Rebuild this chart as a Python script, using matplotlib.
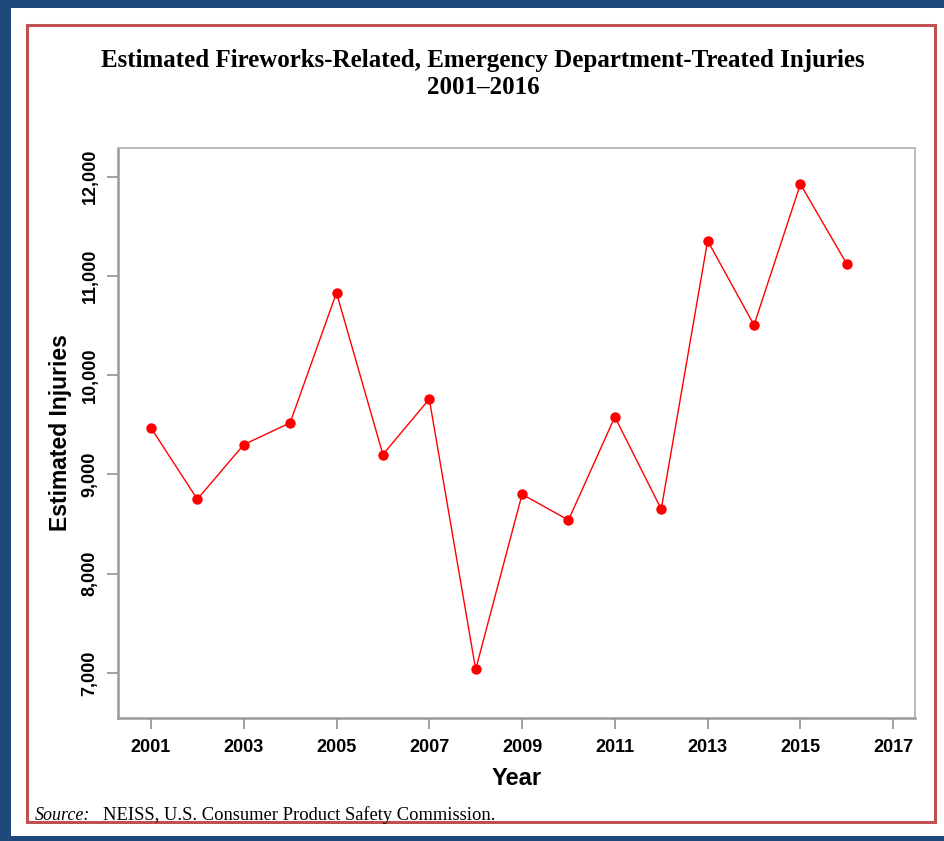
import matplotlib
matplotlib.use("Agg")
import matplotlib.pyplot as plt
from matplotlib.patches import Rectangle
from matplotlib.ticker import FuncFormatter

# 推定値
years = [2001, 2002, 2003, 2004, 2005, 2006, 2007, 2008,
         2009, 2010, 2011, 2012, 2013, 2014, 2015, 2016]
injuries = [9470, 8750, 9300, 9520, 10830, 9200, 9760, 7035,
            8800, 8540, 9580, 8650, 11355, 10505, 11925, 11120]
x_ticks = [2001, 2003, 2005, 2007, 2009, 2011, 2013, 2015, 2017]
y_ticks = [7000, 8000, 9000, 10000, 11000, 12000]

title_line1 = "Estimated Fireworks-Related, Emergency Department-Treated Injuries"
title_line2 = "2001\u20132016"

W, H = 944, 841
fig = plt.figure(figsize=(W / 100, H / 100), dpi=100)

def px(x0, y0, x1, y1):
    # ピクセル座標 -> figure座標
    return (x0 / W, 1 - y1 / H, (x1 - x0) / W, (y1 - y0) / H)

# 外枠（青）
blue = "#1f497d"
for r in [(0, 0, W, 8), (0, 0, 11, H), (0, 836, W, H)]:
    l, b, w, h = px(*r)
    fig.patches.append(Rectangle((l, b), w, h, transform=fig.transFigure,
                                 facecolor=blue, edgecolor="none", zorder=0))

# 内枠（赤）
l, b, w, h = px(27, 25, 935, 822)
fig.patches.append(Rectangle((l, b), w, h, transform=fig.transFigure,
                             facecolor="none", edgecolor="#c0504d", lw=2.2, zorder=1))

ax = fig.add_axes(px(118, 148, 915, 718))
ax.plot(years, injuries, color="red", lw=1.0, marker="o", markersize=7.5,
        markeredgewidth=0, zorder=3)

ax.set_xlim(2000.29, 2017.47)
ax.set_ylim(6546, 12289)
ax.set_xticks(x_ticks)
ax.set_yticks(y_ticks)
ax.yaxis.set_major_formatter(FuncFormatter(lambda v, p: f"{int(v):,}"))

for side in ["left", "bottom"]:
    ax.spines[side].set_color("#9a9a9a")
    ax.spines[side].set_linewidth(1.8)
for side in ["top", "right"]:
    ax.spines[side].set_color("#b5b5b5")
    ax.spines[side].set_linewidth(1.3)

ax.tick_params(axis="both", direction="out", length=8, width=1.3, color="#9a9a9a")
ax.tick_params(axis="x", pad=7)
ax.tick_params(axis="y", pad=6)
for lab in ax.get_xticklabels():
    lab.set_fontfamily("Liberation Sans")
    lab.set_fontweight("bold")
    lab.set_fontsize(13)
for lab in ax.get_yticklabels():
    lab.set_fontfamily("Liberation Sans")
    lab.set_fontweight("bold")
    lab.set_fontsize(13)
    lab.set_rotation(90)
    lab.set_va("center")

ax.set_xlabel("Year", fontfamily="Liberation Sans", fontweight="bold",
              fontsize=17, labelpad=8)
ax.set_ylabel("Estimated Injuries", fontfamily="Liberation Sans",
              fontweight="bold", fontsize=16.5, labelpad=7)

fig.text(483 / W, 1 - 60 / H, title_line1, ha="center", va="center",
         fontfamily="Liberation Serif", fontweight="bold", fontsize=18)
fig.text(483 / W, 1 - 88 / H, title_line2, ha="center", va="center",
         fontfamily="Liberation Serif", fontweight="bold", fontsize=18)

fig.text(35 / W, 1 - 815 / H, "Source:", ha="left", va="center",
         fontfamily="Liberation Serif", fontstyle="italic", fontsize=13)
fig.text(103 / W, 1 - 815 / H, "NEISS, U.S. Consumer Product Safety Commission.",
         ha="left", va="center", fontfamily="Liberation Serif", fontsize=13.3)

fig.savefig("out.png", dpi=100)
